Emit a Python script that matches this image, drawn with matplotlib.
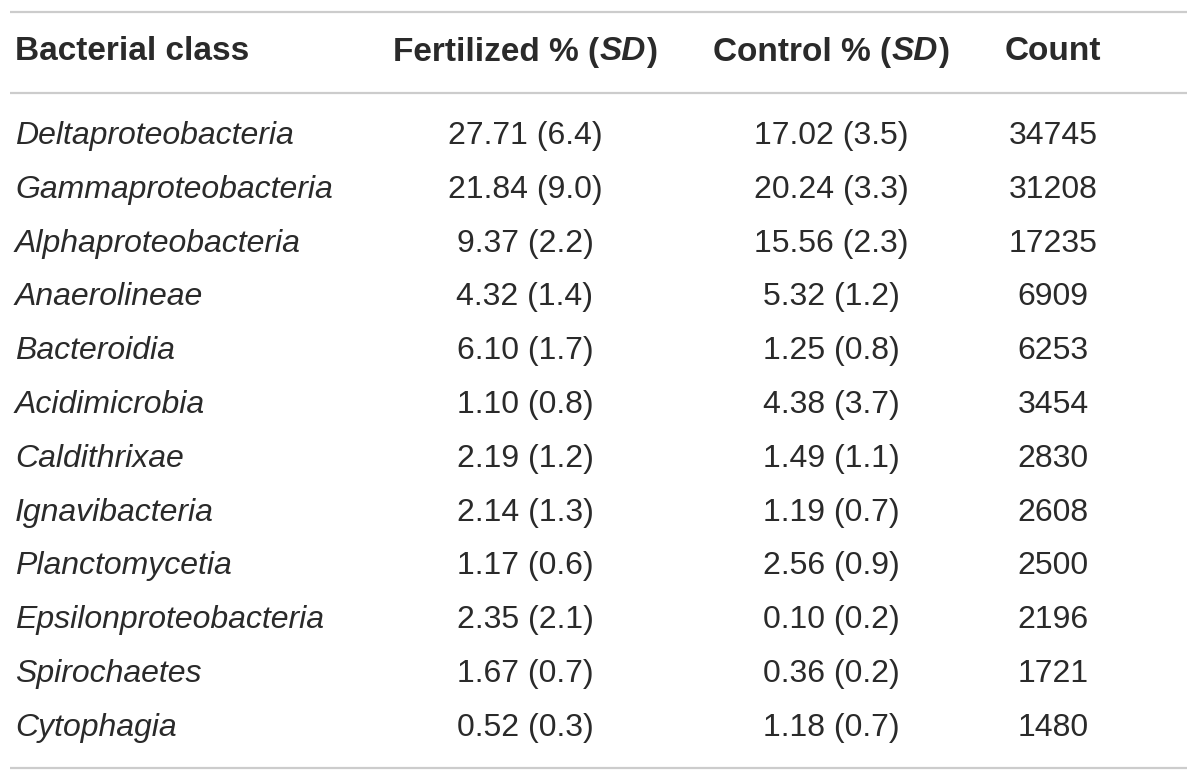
import matplotlib
matplotlib.use('Agg')
import matplotlib.pyplot as plt

classes = ['Deltaproteobacteria', 'Gammaproteobacteria', 'Alphaproteobacteria',
           'Anaerolineae', 'Bacteroidia', 'Acidimicrobia', 'Caldithrixae',
           'Ignavibacteria', 'Planctomycetia', 'Epsilonproteobacteria',
           'Spirochaetes', 'Cytophagia']
fert = ['27.71 (6.4)', '21.84 (9.0)', '9.37 (2.2)', '4.32 (1.4)', '6.10 (1.7)',
        '1.10 (0.8)', '2.19 (1.2)', '2.14 (1.3)', '1.17 (0.6)', '2.35 (2.1)',
        '1.67 (0.7)', '0.52 (0.3)']
ctrl = ['17.02 (3.5)', '20.24 (3.3)', '15.56 (2.3)', '5.32 (1.2)', '1.25 (0.8)',
        '4.38 (3.7)', '1.49 (1.1)', '1.19 (0.7)', '2.56 (0.9)', '0.10 (0.2)',
        '0.36 (0.2)', '1.18 (0.7)']
counts = ['34745', '31208', '17235', '6909', '6253', '3454', '2830', '2608',
          '2500', '2196', '1721', '1480']

plt.rcParams['font.family'] = ['Liberation Sans', 'DejaVu Sans']

fig = plt.figure(figsize=(12, 7.81), dpi=100)
ax = fig.add_axes([0, 0, 1, 1])
ax.set_xlim(0, 1200)
ax.set_ylim(781, 0)
ax.axis('off')

fs = 23      # body
hfs = 24     # header
col = '#2a2a2a'
rule = '#cccccc'

# rules
for y in (12, 93, 768):
    ax.plot([10, 1187], [y, y], color=rule, lw=1.6, solid_capstyle='butt')

# header
hy = 52
ax.text(15, hy, 'Bacterial class', fontsize=hfs, fontweight='bold', color=col,
        ha='left', va='center')

fig.canvas.draw()
r = fig.canvas.get_renderer()


def header(cx, parts):
    # parts: list of (text, style)
    objs = []
    for t, st in parts:
        o = ax.text(0, hy, t, fontsize=hfs, fontweight='bold', fontstyle=st,
                    color=col, ha='left', va='center')
        objs.append(o)
    widths = [o.get_window_extent(r).width for o in objs]
    x = cx - sum(widths) / 2
    for o, w in zip(objs, widths):
        o.set_x(x)
        x += w


header(525, [('Fertilized % (', 'normal'), ('SD', 'italic'), (')', 'normal')])
header(831, [('Control % (', 'normal'), ('SD', 'italic'), (')', 'normal')])
ax.text(1053, hy, 'Count', fontsize=hfs, fontweight='bold', color=col,
        ha='center', va='center')

# body rows
y0, dy = 136, 53.8
for i in range(len(classes)):
    y = y0 + i * dy
    ax.text(15, y, classes[i], fontsize=fs, fontstyle='italic', color=col,
            ha='left', va='center')
    ax.text(525, y, fert[i], fontsize=fs, color=col, ha='center', va='center')
    ax.text(831, y, ctrl[i], fontsize=fs, color=col, ha='center', va='center')
    ax.text(1053, y, counts[i], fontsize=fs, color=col, ha='center', va='center')

fig.savefig('out.png', dpi=100)
